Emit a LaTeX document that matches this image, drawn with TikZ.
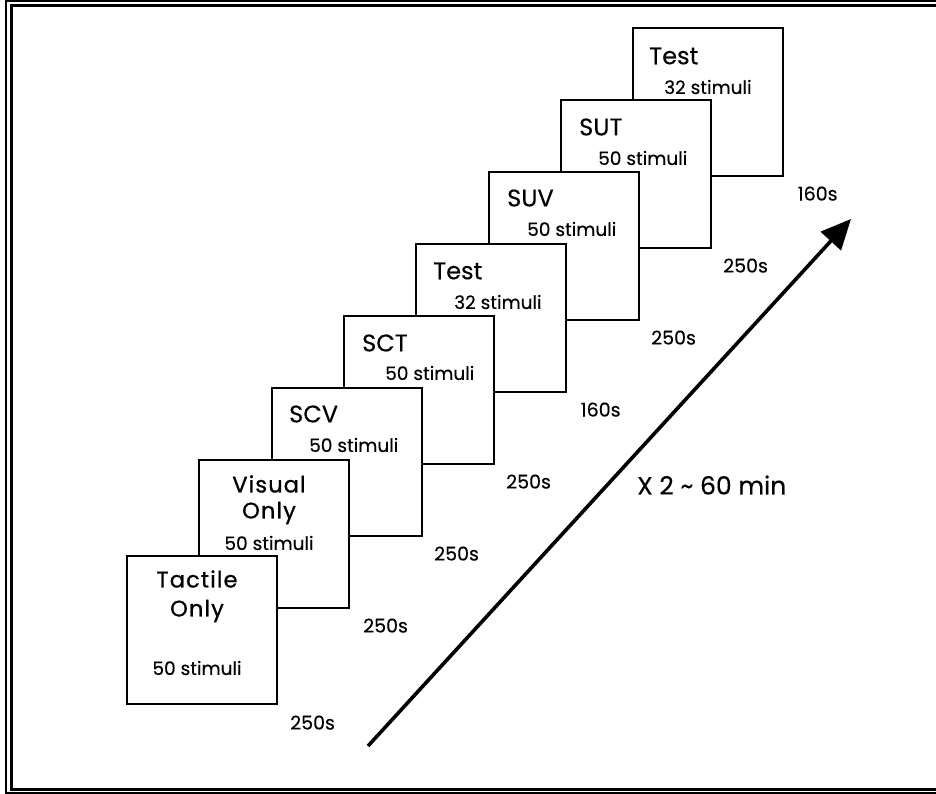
\documentclass[tikz,border=0pt]{standalone}
\usepackage{fontspec}
\setmainfont{Poppins}[FakeBold=0.3]
\newfontfamily\spacedfont{Poppins}[LetterSpace=5,FakeBold=0.9]
\usetikzlibrary{arrows.meta}

\tikzset{
  stage/.style={draw=black, line width=1.6pt, fill=white, minimum width=150pt,
                minimum height=148pt, anchor=north west, inner sep=0pt},
  title/.style={anchor=west, inner sep=0pt, font=\fontsize{24}{26}\selectfont},
  count/.style={anchor=west, inner sep=0pt, font=\fontsize{18.5}{20}\selectfont},
  dur/.style={inner sep=0pt, font=\fontsize{19}{21}\selectfont},
  spaced/.style={inner sep=0pt, font=\spacedfont\fontsize{22.5}{24}\selectfont},
  frameline/.style={line width=#1, draw=black},
}

\begin{document}
\begin{tikzpicture}[x=1pt, y=-1pt]
  \useasboundingbox (0,0) rectangle (936,794);
  \fill[white] (0,0) rectangle (936,794);

  % double frame (open on the right)
  \draw[frameline=1.8pt] (936,1) -- (6,1) -- (6,793.3) -- (936,793.3);
  \draw[frameline=3pt] (936,5.5) -- (11.5,5.5) -- (11.5,789.5) -- (936,789.5);

  % stages, back to front
  % Test (second)
  \node[stage] (test2) at (632,27) {};
  \node[title] (test2t) at ([shift={(17,29)}]test2.north west) {Test};
  \node[count] (test2c) at ([shift={(32,60)}]test2.north west) {32 stimuli};
  \node[dur] (test2d) at ([shift={(34,17)}]test2.south east) {160s};
  % SUT
  \node[stage] (sut) at (560,99) {};
  \node[title] (sutt) at ([shift={(19,28)}]sut.north west) {SUT};
  \node[count] (sutc) at ([shift={(38,59)}]sut.north west) {50 stimuli};
  \node[dur] (sutd) at ([shift={(34,17)}]sut.south east) {250s};
  % SUV
  \node[stage] (suv) at (488,171) {};
  \node[title] (suvt) at ([shift={(19,27)}]suv.north west) {SUV};
  \node[count] (suvc) at ([shift={(39,58)}]suv.north west) {50 stimuli};
  \node[dur] (suvd) at ([shift={(34,17)}]suv.south east) {250s};
  % Test (first)
  \node[stage] (test1) at (415,243) {};
  \node[title] (test1t) at ([shift={(18,28)}]test1.north west) {Test};
  \node[count] (test1c) at ([shift={(39,59)}]test1.north west) {32 stimuli};
  \node[dur] (test1d) at ([shift={(34,17)}]test1.south east) {160s};
  % SCT
  \node[stage] (sct) at (343,315) {};
  \node[title] (sctt) at ([shift={(19,28)}]sct.north west) {SCT};
  \node[count] (sctc) at ([shift={(42,58)}]sct.north west) {50 stimuli};
  \node[dur] (sctd) at ([shift={(34,17)}]sct.south east) {250s};
  % SCV
  \node[stage] (scv) at (271,387) {};
  \node[title] (scvt) at ([shift={(18,27)}]scv.north west) {SCV};
  \node[count] (scvc) at ([shift={(38,58)}]scv.north west) {50 stimuli};
  \node[dur] (scvd) at ([shift={(34,17)}]scv.south east) {250s};
  % Visual only
  \node[stage] (vis) at (198,459) {};
  \node[spaced] (vist) at ([shift={(71,25)}]vis.north west) {Visual};
  \node[spaced] (viso) at ([shift={(71,54)}]vis.north west) {Only};
  \node[dur, font=\fontsize{18.5}{20}\selectfont] (visc) at ([shift={(71,84)}]vis.north west) {50 stimuli};
  \node[dur] (visd) at ([shift={(36,17)}]vis.south east) {250s};
  % Tactile only
  \node[stage] (tac) at (126,555) {};
  \node[spaced] (tact) at ([shift={(71,24)}]tac.north west) {Tactile};
  \node[spaced] (taco) at ([shift={(71,56)}]tac.north west) {Only};
  \node[dur, font=\fontsize{18.5}{20}\selectfont] (tacc) at ([shift={(71,113)}]tac.north west) {50 stimuli};
  \node[dur] (tacd) at ([shift={(35,18)}]tac.south east) {250s};

  % overall progression arrow
  \coordinate (arrstart) at (368,746);
  \coordinate (arrend) at (851,219);
  \draw[line width=3.6pt, -{Triangle[length=30pt,width=27pt]}] (arrstart) -- (arrend);
  \node[inner sep=0pt, anchor=west, font=\fontsize{25}{27}\selectfont] (reps) at (637,485) {X 2 \textasciitilde\ 60 min};
\end{tikzpicture}
\end{document}
